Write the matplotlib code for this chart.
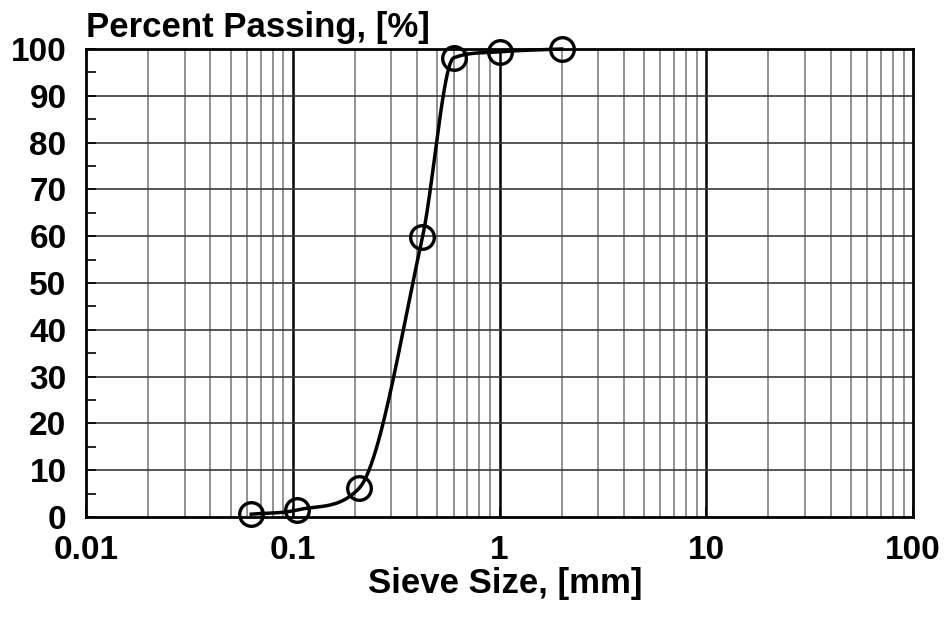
import numpy as np
import matplotlib.pyplot as plt
from matplotlib.ticker import FixedLocator, NullFormatter

# 粒度分布データ
sieve_mm = [0.063, 0.105, 0.209, 0.424, 0.6, 1.0, 2.0]
passing = [0.6, 1.5, 6.1, 59.8, 98.1, 99.4, 100.0]

x_ticks = [0.01, 0.1, 1, 10, 100]
x_ticklabels = ['0.01', '0.1', '1', '10', '100']
y_ticks = list(range(0, 101, 10))


def smooth_curve(x, y, n=80):
    # Catmull-Rom の接線を単調性で制限したエルミート補間 (対数軸上)
    lx = np.log10(x)
    y = np.asarray(y, dtype=float)
    h = np.diff(lx)
    d = np.diff(y) / h
    m = np.zeros_like(y)
    m[0], m[-1] = d[0], d[-1]
    for i in range(1, len(y) - 1):
        m[i] = (y[i + 1] - y[i - 1]) / (lx[i + 1] - lx[i - 1])
        if d[i - 1] * d[i] <= 0:
            m[i] = 0.0
        else:
            m[i] = min(m[i], 3 * d[i - 1], 3 * d[i])
    px, py = [], []
    for i in range(len(lx) - 1):
        t = np.linspace(0, 1, n)
        h00 = 2 * t ** 3 - 3 * t ** 2 + 1
        h10 = t ** 3 - 2 * t ** 2 + t
        h01 = -2 * t ** 3 + 3 * t ** 2
        h11 = t ** 3 - t ** 2
        px.extend(lx[i] + t * h[i])
        py.extend(h00 * y[i] + h10 * h[i] * m[i] + h01 * y[i + 1] + h11 * h[i] * m[i + 1])
    return 10 ** np.array(px), np.array(py)


plt.rcParams['font.family'] = ['Liberation Sans', 'DejaVu Sans']
plt.rcParams['font.weight'] = 'bold'

fig = plt.figure(figsize=(9.46, 6.17), dpi=100)
ax = fig.add_axes([86 / 946, 100 / 617, 827 / 946, 468 / 617])

ax.set_xscale('log')
ax.set_xlim(0.01, 100)
ax.set_ylim(0, 100)

# グリッド
minor_x = [m * 10.0 ** e for e in range(-2, 2) for m in range(2, 10)]
for xv in minor_x:
    ax.axvline(xv, color='#7f7f7f', lw=1.2, zorder=1)
for xv in x_ticks[1:-1]:
    ax.axvline(xv, color='black', lw=1.8, zorder=1)
for yv in y_ticks[1:-1]:
    ax.axhline(yv, color='#3a3a3a', lw=1.2, zorder=1)

# 曲線とマーカー
cx, cy = smooth_curve(sieve_mm, passing)
ax.plot(cx, cy, color='black', lw=2.5, zorder=3, clip_on=False)
ax.plot(sieve_mm, passing, linestyle='none', marker='o', ms=17,
        mfc='none', mec='black', mew=2.4, zorder=4, clip_on=False)

ax.xaxis.set_major_locator(FixedLocator(x_ticks))
ax.set_xticklabels(x_ticklabels)
ax.xaxis.set_minor_locator(FixedLocator(minor_x))
ax.xaxis.set_minor_formatter(NullFormatter())
ax.yaxis.set_major_locator(FixedLocator(y_ticks))
ax.yaxis.set_minor_locator(FixedLocator(list(range(5, 100, 10))))

ax.tick_params(axis='both', which='major', direction='in', length=7, width=1.2,
               labelsize=24, pad=13, colors='black')
ax.tick_params(axis='both', which='minor', direction='in', length=7, width=1.2)
ax.tick_params(axis='x', which='minor', length=0)
ax.tick_params(axis='y', which='major', pad=14)
for lab in ax.get_xticklabels() + ax.get_yticklabels():
    lab.set_fontweight('bold')

for sp in ax.spines.values():
    sp.set_linewidth(2)
    sp.set_zorder(5)

fig.text(505 / 946, 24 / 617, 'Sieve Size, [mm]', fontsize=25, fontweight='bold',
         ha='center', va='baseline')
ax.text(0.0, 1.0 + 12 / 468, 'Percent Passing, [%]', transform=ax.transAxes,
        fontsize=25, fontweight='bold', ha='left', va='baseline')

fig.savefig('out.png', dpi=100)
